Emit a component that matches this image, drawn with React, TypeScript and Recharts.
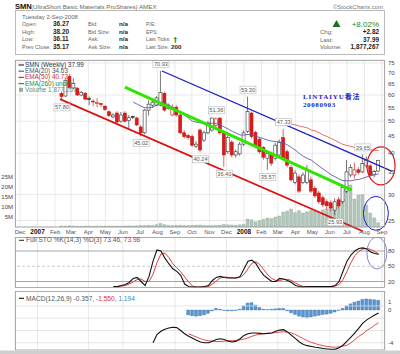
import React from 'react';
import { ComposedChart, Bar, Line, XAxis, YAxis, CartesianGrid, ReferenceLine, ReferenceDot } from 'recharts';

const FONT = '"Liberation Sans", Arial, sans-serif';

// x axis = weeks since 1-Dec-2006
const firstWeek = 10.6;
const X_DOMAIN: [number, number] = [-1.26, 92.2];
const monthTicks = [0, 4.43, 8.86, 12.86, 17.29, 21.57, 26, 30.29, 34.71, 39.14, 43.43, 47.86, 52.14, 56.57, 61, 65.14, 69.57, 73.86, 78.29, 82.57, 87, 91.43];
const monthLabels = ['Dec', '2007', 'Feb', 'Mar', 'Apr', 'May', 'Jun', 'Jul', 'Aug', 'Sep', 'Oct', 'Nov', 'Dec', '2008', 'Feb', 'Mar', 'Apr', 'May', 'Jun', 'Jul', 'Aug', 'Sep'];

const opens = [60.7, 59.6, 68.2, 63.0, 62.8, 60.0, 60.7, 58.5, 57.5, 56.6,
  56.5, 55.5, 53.4, 51.5, 52.9, 50.0, 52.9, 50.2, 51.6, 51.1,
  48.0, 46.1, 54.0, 55.9, 55.9, 55.9, 60.7, 54.7, 52.2, 55.1,
  52.2, 46.1, 45.2, 44.9, 42.0, 47.0, 43.8, 46.1, 47.0, 48.5,
  51.1, 46.1, 40.4, 43.2, 39.5, 39.8, 42.6, 46.5, 52.9, 46.2,
  44.1, 41.6, 38.5, 39.8, 38.5, 39.5, 44.6, 40.4, 36.2, 32.6,
  33.9, 32.6, 32.6, 33.2, 31.3, 30.3, 29.3, 28.5, 28.3, 26.9,
  28.9, 28.5, 30.7, 34.35, 34.35, 35.6, 35.1, 36.6, 36.6, 34.4,
  35.3];
const highs = [61.3, 67.0, 69.6, 67.5, 63.5, 61.8, 61.3, 59.5, 58.2, 58.7,
  56.8, 55.9, 53.9, 52.8, 53.6, 53.3, 53.6, 52.2, 52.0, 51.6,
  48.6, 54.5, 57.8, 57.8, 59.5, 70.93, 61.5, 56.6, 56.2, 55.9,
  53.0, 47.0, 45.8, 45.5, 43.5, 47.5, 46.8, 50.0, 51.2, 51.36,
  51.3, 46.6, 45.3, 43.8, 41.0, 43.2, 46.8, 59.3, 53.5, 46.8,
  44.6, 42.0, 40.5, 40.4, 43.0, 44.0, 47.33, 41.0, 36.8, 35.5,
  34.5, 35.0, 36.8, 34.0, 31.8, 30.8, 29.8, 29.0, 28.8, 29.2,
  29.5, 32.2, 38.1, 37.0, 37.5, 36.3, 39.65, 39.1, 37.0, 35.6,
  38.2];
const lows = [57.8, 59.2, 62.8, 62.5, 59.6, 59.5, 57.8, 55.9, 55.5, 55.1,
  55.1, 53.7, 51.5, 51.0, 49.3, 49.5, 49.5, 47.0, 50.8, 48.3,
  45.02, 45.6, 52.0, 55.0, 55.5, 55.5, 53.5, 54.2, 51.8, 51.6,
  45.6, 44.3, 43.9, 41.8, 41.4, 40.24, 43.2, 45.6, 46.5, 47.8,
  45.5, 36.4, 39.8, 38.9, 38.8, 39.3, 42.0, 46.0, 44.3, 41.4,
  39.8, 38.2, 35.57, 36.6, 38.0, 39.0, 38.0, 36.2, 32.8, 32.2,
  30.3, 32.2, 32.2, 30.3, 29.3, 28.1, 27.5, 27.0, 26.6, 25.93,
  27.2, 28.1, 30.3, 33.8, 33.5, 34.5, 34.8, 36.0, 34.0, 33.8,
  35.1];
const closes = [59.4, 66.5, 63.2, 65.0, 60.0, 61.1, 58.3, 58.3, 57.2, 57.0,
  56.2, 54.3, 52.0, 52.2, 49.7, 52.2, 50.0, 51.2, 51.4, 48.7,
  46.1, 54.0, 56.3, 57.1, 58.8, 61.1, 54.0, 55.9, 55.1, 52.2,
  46.1, 44.9, 44.6, 42.3, 42.6, 40.9, 46.1, 49.3, 51.1, 50.8,
  46.1, 39.5, 44.6, 39.5, 40.4, 42.6, 46.1, 53.5, 44.9, 41.9,
  40.4, 38.9, 39.9, 37.3, 42.3, 43.1, 38.5, 36.8, 33.2, 34.8,
  30.7, 34.35, 35.6, 30.7, 29.7, 28.5, 27.9, 27.7, 27.3, 28.5,
  27.7, 31.5, 35.1, 36.2, 35.6, 35.0, 37.2, 38.1, 34.35, 35.17,
  37.99];
// millions of shares
const volumes = [0.5, 0.4, 0.6, 0.5, 0.4, 0.4, 0.5, 0.4, 0.4, 0.4,
  0.4, 0.4, 0.5, 0.4, 0.5, 0.4, 0.5, 0.6, 0.5, 0.6,
  0.7, 0.8, 0.9, 0.8, 1.2, 1.8, 1.2, 0.8, 0.7, 0.8,
  0.9, 0.8, 0.7, 0.8, 0.9, 1.0, 0.8, 0.7, 0.7, 0.8,
  0.9, 1.3, 1.1, 1.0, 0.9, 1.1, 1.4, 4.0, 3.6, 2.6,
  3.2, 3.8, 4.5, 4.2, 5.0, 5.5, 7.5, 8.0, 9.0, 7.2,
  8.2, 7.0, 7.6, 8.3, 8.0, 7.4, 8.6, 9.0, 10.2, 11.0,
  12.0, 14.0, 21.5, 21.0, 14.0, 16.0, 16.2, 11.0, 7.0, 4.6,
  2.2];

const ema20Start = 18;
const ema20 = [57.1, 56.3, 55.5, 54.9, 54.9, 55.1, 56.0, 57.1, 56.8, 55.9,
  55.0, 54.0, 53.3, 52.2, 51.0, 50.0, 49.6, 49.4, 49.3, 49.3,
  49.3, 49.1, 48.7, 48.0, 47.3, 46.6, 46.0, 45.4, 45.4, 45.6,
  45.4, 45.0, 44.6, 44.2, 43.8, 43.5, 43.4, 43.2, 43.0, 42.3,
  41.6, 40.8, 39.9, 39.1, 38.5, 38.1, 37.3, 36.5, 35.8, 35.1,
  34.4, 33.9, 33.4, 33.0, 33.0, 33.0, 33.2, 33.3, 33.6, 33.9,
  34.2, 34.4, 34.63];
const ema50Start = 55;
const ema50 = [50.0, 49.7, 49.3, 49.0, 48.7, 48.3, 48.0, 47.7, 47.0, 46.7,
  46.1, 45.4, 44.9, 44.3, 43.7, 43.1, 42.5, 42.2, 41.9, 41.6,
  41.6, 41.4, 41.1, 40.9, 40.8, 40.72];

const stoStart = 13;
const stoK = [10, 10, 12, 14, 18, 26, 28, 20, 12, 30,
  60, 82, 80, 66, 55, 45, 40, 32, 15, 10,
  9, 9, 9, 10, 12, 22, 28, 30, 28, 27,
  27, 27, 30, 45, 60, 62, 55, 42, 32, 26,
  20, 20, 26, 25, 22, 18, 12, 10, 9, 10,
  10, 10, 10, 10, 10, 10, 12, 20, 40, 60,
  72, 80, 85, 86, 84, 78, 75, 73.46];
const stoD = [10, 10, 11, 12, 15, 19, 24, 25, 20, 20,
  34, 57, 74, 76, 67, 55, 47, 39, 29, 19,
  11, 9, 9, 9, 10, 15, 21, 27, 29, 28,
  27, 27, 28, 34, 45, 56, 59, 53, 43, 33,
  26, 22, 22, 24, 24, 22, 17, 13, 10, 10,
  10, 10, 10, 10, 10, 10, 11, 14, 24, 40,
  57, 71, 79, 84, 85, 83, 79, 73.98];

const macdStart = 23;
const macdLine = [-4.0, -3.0, -2.6, -2.35, -2.2, -2.1, -2.15, -2.5, -2.9, -3.2,
  -3.45, -3.7, -3.9, -4.0, -4.0, -3.8, -3.6, -3.5, -3.6, -3.8,
  -3.9, -3.8, -3.5, -3.1, -2.9, -2.8, -2.8, -2.85, -2.9, -2.85,
  -2.8, -2.6, -2.45, -2.4, -2.7, -3.1, -3.5, -3.9, -4.2, -4.35,
  -4.45, -4.55, -4.6, -4.7, -4.75, -4.8, -4.8, -4.6, -4.3, -3.8,
  -3.3, -2.8, -2.2, -1.6, -1.2, -0.9, -0.6, -0.357];
const signalStart = 32;
const signalLine = [-2.9, -3.1, -3.3, -3.5, -3.65, -3.75, -3.8, -3.85, -3.85, -3.8,
  -3.75, -3.75, -3.7, -3.65, -3.55, -3.4, -3.2, -3.05, -2.95, -2.9,
  -2.85, -2.8, -2.75, -2.7, -2.65, -2.7, -2.8, -3.0, -3.25, -3.5,
  -3.75, -3.95, -4.1, -4.25, -4.35, -4.45, -4.5, -4.55, -4.5, -4.4,
  -4.3, -4.0, -3.6, -3.2, -2.9, -2.5, -2.2, -1.85, -1.55];
const histogram = [-0.6, -0.7, -0.75, -0.7, -0.6, -0.4, -0.1, 0.2, 0.1, -0.05,
  -0.1, -0.1, -0.05, 0.1, 0.5, 0.85, 0.9, 0.6, 0.3, 0.1,
  0.05, 0.1, 0.15, 0.2, 0.2, -0.1, -0.35, -0.55, -0.75, -0.85,
  -0.9, -0.85, -0.75, -0.65, -0.55, -0.5, -0.4, -0.25, -0.05, 0.2,
  0.5, 0.75, 0.95, 1.1, 1.3, 1.35, 1.3, 1.25, 1.194];

const priceTicks = [25, 30, 35, 40, 45, 50, 55, 60, 65, 70, 75];
const PRICE_DOMAIN: [number, number] = [23.9, 76.6];
const volumeTicks = [5, 10, 15, 20, 25];
const VOL_DOMAIN: [number, number] = [0, 83.5];
const stoTicks = [20, 50, 80];
const STO_DOMAIN: [number, number] = [7.2, 107.5];
const macdTicks = [-4, 0, 1];
const macdGridValues = [0.5, -1, -2.5, -4];
const MACD_DOMAIN: [number, number] = [-4.88, 2.32];

// trend lines drawn on the chart: [week, price] end points
const lowerChannel = [[10.1, 58.3], [86.6, 23.2]];
const upperChannel = [[35.86, 70.93], [93.9, 35.3]];
const midTrend = [[26.5, 63.4], [83.8, 30.9]];

// highs / lows flagged on the chart
const extremeTags = [
  { j: 0, v: 57.8, below: true }, { j: 20, v: 45.02, below: true }, { j: 25, v: 70.93, below: false },
  { j: 35, v: 40.24, below: true }, { j: 39, v: 51.36, below: false }, { j: 41, v: 36.4, below: true },
  { j: 47, v: 59.3, below: false }, { j: 52, v: 35.57, below: true }, { j: 56, v: 47.33, below: false },
  { j: 69, v: 25.93, below: true }, { j: 76, v: 39.65, below: false },
];
const circlePrice = { t: 91.2, v: 36.6 };
const circleVolume = { t: 89.9, v: 6.85 };
const circleSto = { t: 90.15, v: 76 };

const legendItems = [
  { label: 'SMN (Weekly) 37.99', color: '#333', text: '#333' },
  { label: 'EMA(20) 34.63', color: '#5a5aa8', text: '#555' },
  { label: 'EMA(50) 40.72', color: '#d83030', text: '#c83030' },
  { label: 'EMA(260) undef', color: '#2a9a2a', text: '#2a8a2a' },
  { label: 'Volume 1,877,267', color: '#8fae9c', text: '#5f8f75' },
];
const infoRows = [
  ['Open:', '36.27', 'Bid:', 'n/a', 'P/E:', ''],
  ['High:', '38.20', 'Bid Size:', 'n/a', 'EPS:', ''],
  ['Low:', '36.11', 'Ask:', 'n/a', 'Last Ticks:', ''],
  ['Prev Close:', '35.17', 'Ask Size:', 'n/a', 'Last Size:', '200'],
];
const infoRight = [['', '+8.02%'], ['Chg:', '+2.82'], ['Last:', '37.99'], ['Volume:', '1,877,267']];

const at = (arr: number[], start: number, j: number) => (j >= start && j - start < arr.length ? arr[j - start] : null);

const rows = opens.map((o, j) => ({
  t: firstWeek + j,
  o, h: highs[j], l: lows[j], c: closes[j],
  pc: j > 0 ? closes[j - 1] : opens[j],
  vol: volumes[j],
  e20: at(ema20, ema20Start, j),
  e50: at(ema50, ema50Start, j),
  k: at(stoK, stoStart, j),
  d: at(stoD, stoStart, j),
  macd: at(macdLine, macdStart, j),
  sig: at(signalLine, signalStart, j),
  hist: at(histogram, signalStart, j),
}));

const Candle = (props: any) => {
  const { x, y, width, height, payload } = props;
  if (!payload || !isFinite(x) || !isFinite(y) || !isFinite(height)) return null;
  const { o, h, l, c, pc } = payload;
  const top = Math.min(y, y + height);
  const span = Math.abs(height);
  const lh = Math.log(h);
  const ll = Math.log(l);
  const py = (v: number) => top + (span * (lh - Math.log(v))) / (lh - ll || 1);
  const down = c < pc;
  const filled = c < o;
  const edge = down ? '#c01818' : '#333';
  const bTop = py(Math.max(o, c));
  const bBot = py(Math.min(o, c));
  const mid = x + width / 2;
  return (
    <g>
      <line x1={mid} x2={mid} y1={top} y2={top + span} stroke={down ? '#d04040' : '#555'} strokeWidth={0.8} />
      <rect x={x} y={bTop} width={width} height={Math.max(0.8, bBot - bTop)}
        fill={filled ? (down ? '#dd1a1a' : '#222') : '#fff'} stroke={edge} strokeWidth={0.6} />
    </g>
  );
};

const MonthTick = (props: any) => {
  const { x, y, payload } = props;
  const i = monthTicks.indexOf(payload.value);
  const label = i >= 0 ? monthLabels[i] : '';
  const year = /^\d{4}$/.test(label);
  return (
    <text x={x} y={y} dy={5} textAnchor="middle" fontFamily={FONT} fontSize={year ? 6.5 : 6}
      fontWeight={year ? 'bold' : 'normal'} fill={year ? '#111' : '#555'}>{label}</text>
  );
};

const MacdTick = (props: any) => {
  const { x, y, payload } = props;
  return <text x={x} y={y} dy={2} fontFamily={FONT} fontSize={6} fill="#444">{payload.value}</text>;
};

const tagShape = (text: string, below: boolean) => (p: any) => {
  const { cx, cy } = p;
  if (!isFinite(cx) || !isFinite(cy)) return null;
  const yc = cy + (below ? 7 : -7);
  return (
    <g>
      <rect x={cx - 8} y={yc - 3.5} width={16} height={7} fill="#fff" stroke="#b4b4b4" strokeWidth={0.6} />
      <text x={cx} y={yc + 2.1} textAnchor="middle" fontFamily={FONT} fontSize={5.6} fill="#555">{text}</text>
    </g>
  );
};

const ellipseShape = (rx: number, ry: number, color: string, w: number) => (p: any) => {
  const { cx, cy } = p;
  if (!isFinite(cx) || !isFinite(cy)) return null;
  return <ellipse cx={cx} cy={cy} rx={rx} ry={ry} fill="none" stroke={color} strokeWidth={w} />;
};

const axisTick = { fontSize: 6, fill: '#444', fontFamily: FONT };

export default function App() {
  const W = 400;
  return (
    <div style={{ position: 'absolute', left: 0, top: 0, width: 400, height: 354, background: '#fff', overflow: 'hidden' }}>
      {/* volume layer + grid + dates */}
      <div style={{ position: 'absolute', left: 0, top: 0 }}>
        <ComposedChart width={W} height={240} data={rows} margin={{ top: 60, right: 15, bottom: 0, left: 0 }}>
          <CartesianGrid stroke="#e3e3e3" strokeWidth={0.8} />
          <XAxis dataKey="t" type="number" domain={X_DOMAIN} allowDataOverflow ticks={monthTicks} interval={0}
            height={13} tick={<MonthTick />} tickLine={false} axisLine={false} tickSize={0} tickMargin={2} />
          <YAxis yAxisId="vol" orientation="left" width={15} domain={VOL_DOMAIN} allowDataOverflow ticks={volumeTicks}
            interval={0} tickFormatter={(v: number) => `${v}M`} tick={axisTick} tickLine={false} axisLine={false}
            tickSize={0} tickMargin={2} />
          <YAxis orientation="right" hide scale="log" type="number" domain={PRICE_DOMAIN} allowDataOverflow ticks={priceTicks} />
          <Bar yAxisId="vol" dataKey="vol" barSize={3} fill="#b2c6ba" stroke="#93ad9e" strokeWidth={0.4} isAnimationActive={false} />
          <ReferenceDot yAxisId="vol" x={circleVolume.t} y={circleVolume.v} r={1} ifOverflow="visible"
            shape={ellipseShape(12.5, 17, '#1c1cc8', 1)} />
        </ComposedChart>
      </div>
      {/* price layer */}
      <div style={{ position: 'absolute', left: 0, top: 0 }}>
        <ComposedChart width={W} height={240} data={rows} margin={{ top: 60, right: 0, bottom: 13, left: 15 }}>
          <XAxis dataKey="t" type="number" domain={X_DOMAIN} allowDataOverflow ticks={monthTicks} hide />
          <YAxis orientation="right" width={15} scale="log" type="number" domain={PRICE_DOMAIN} allowDataOverflow
            ticks={priceTicks} interval={0} tick={axisTick} tickLine={false} axisLine={false} tickSize={0} tickMargin={3} />
          <Bar dataKey={(d: any) => [d.l, d.h]} barSize={3} shape={<Candle />} isAnimationActive={false} />
          <Line dataKey="e20" stroke="#5a5aa8" strokeWidth={0.9} dot={false} isAnimationActive={false} />
          <Line dataKey="e50" stroke="#e06060" strokeWidth={0.9} dot={false} isAnimationActive={false} />
          <ReferenceLine segment={[{ x: lowerChannel[0][0], y: lowerChannel[0][1] }, { x: lowerChannel[1][0], y: lowerChannel[1][1] }]}
            stroke="#dd1111" strokeWidth={1.8} ifOverflow="visible" />
          <ReferenceLine segment={[{ x: upperChannel[0][0], y: upperChannel[0][1] }, { x: upperChannel[1][0], y: upperChannel[1][1] }]}
            stroke="#1a1acc" strokeWidth={1.3} ifOverflow="visible" />
          <ReferenceLine segment={[{ x: midTrend[0][0], y: midTrend[0][1] }, { x: midTrend[1][0], y: midTrend[1][1] }]}
            stroke="#2ee600" strokeWidth={3} ifOverflow="visible" />
          {extremeTags.map((e) => (
            <ReferenceDot key={e.j} x={firstWeek + e.j} y={e.v} r={1} ifOverflow="visible"
              shape={tagShape(e.v.toFixed(2), e.below)} />
          ))}
          <ReferenceDot x={circlePrice.t} y={circlePrice.v} r={1} ifOverflow="visible"
            shape={ellipseShape(14, 19, '#dd1a1a', 1.2)} />
        </ComposedChart>
      </div>
      {/* stochastics */}
      <div style={{ position: 'absolute', left: 0, top: 237 }}>
        <ComposedChart width={W} height={51} data={rows} margin={{ top: 0, right: 0, bottom: 0, left: 15 }}>
          <CartesianGrid horizontal={false} stroke="#e3e3e3" strokeWidth={0.8} />
          <XAxis dataKey="t" type="number" domain={X_DOMAIN} allowDataOverflow ticks={monthTicks} hide />
          <YAxis orientation="right" width={15} domain={STO_DOMAIN} allowDataOverflow ticks={stoTicks} interval={0}
            tick={axisTick} tickLine={false} axisLine={false} tickSize={0} tickMargin={3} />
          <ReferenceLine y={80} stroke="#9a9a9a" strokeWidth={0.9} />
          <ReferenceLine y={20} stroke="#9a9a9a" strokeWidth={0.9} />
          <ReferenceLine y={50} stroke="#bbbbbb" strokeWidth={0.8} strokeDasharray="3 2" />
          <Line dataKey="d" stroke="#e03a3a" strokeWidth={1} dot={false} isAnimationActive={false} />
          <Line dataKey="k" stroke="#111" strokeWidth={1.1} dot={false} isAnimationActive={false} />
          <ReferenceDot x={circleSto.t} y={circleSto.v} r={1} ifOverflow="visible"
            shape={ellipseShape(10, 16, '#6a6ad0', 0.8)} />
        </ComposedChart>
      </div>
      {/* MACD */}
      <div style={{ position: 'absolute', left: 0, top: 291 }}>
        <ComposedChart width={W} height={59} data={rows} margin={{ top: 0, right: 0, bottom: 0, left: 15 }}>
          <CartesianGrid horizontal={false} stroke="#e3e3e3" strokeWidth={0.8} />
          <XAxis dataKey="t" type="number" domain={X_DOMAIN} allowDataOverflow ticks={monthTicks} hide />
          <YAxis orientation="right" width={15} domain={MACD_DOMAIN} allowDataOverflow ticks={macdTicks} interval={0}
            tick={<MacdTick />} tickLine={false} axisLine={false} tickSize={0} tickMargin={3} />
          {macdGridValues.map((g) => (
            <ReferenceLine key={g} y={g} stroke="#dedede" strokeWidth={0.8} />
          ))}
          <Bar dataKey="hist" barSize={3} fill="#5a96cc" stroke="#3c76ae" strokeWidth={0.4} isAnimationActive={false} />
          <Line dataKey="sig" stroke="#e03a3a" strokeWidth={0.9} dot={false} isAnimationActive={false} />
          <Line dataKey="macd" stroke="#111" strokeWidth={1.1} dot={false} isAnimationActive={false} />
        </ComposedChart>
      </div>
      {/* texts and frames */}
      <svg width={400} height={354} style={{ position: 'absolute', left: 0, top: 0, pointerEvents: 'none' }} fontFamily={FONT}>
        <text x={15} y={8.5} fontSize={7.5} fontWeight="bold" fill="#111">SMN</text>
        <text x={31} y={8.5} fontSize={6.2} fill="#666">(UltraShort Basic Materials ProShares) AMEX</text>
        <text x={383} y={8.5} fontSize={6} fill="#777" textAnchor="end">©StockCharts.com</text>
        <rect x={15.5} y={10.5} width={369} height={44} fill="none" stroke="#aaa" strokeWidth={0.8} />
        <text x={22} y={18.5} fontSize={6} fill="#666">Tuesday  2-Sep-2008</text>
        {infoRows.map((r, i) => {
          const y = 26 + i * 7.6;
          return (
            <g key={i}>
              <text x={22} y={y} fontSize={5.6} fill="#666">{r[0]}</text>
              <text x={53} y={y} fontSize={6.4} fontWeight="bold" fill="#222">{r[1]}</text>
              <text x={88} y={y} fontSize={5.6} fill="#666">{r[2]}</text>
              <text x={119} y={y} fontSize={6.2} fontWeight="bold" fill="#222">{r[3]}</text>
              <text x={146} y={y} fontSize={5.2} fill="#666">{r[4]}</text>
              <text x={171} y={y} fontSize={6.2} fontWeight="bold" fill="#222">{r[5]}</text>
            </g>
          );
        })}
        <text x={173.5} y={41.5} fontSize={7} fontWeight="bold" fill="#1d8a1d" fontFamily="DejaVu Sans">†</text>
        <path d="M332.5 27 L336.5 20 L340.5 27 Z" fill="#1e6e1e" />
        {infoRight.map((r, i) => {
          const y = 26.5 + i * 7.5;
          return (
            <g key={i}>
              <text x={320} y={y} fontSize={6} fill="#666">{r[0]}</text>
              <text x={379} y={y} fontSize={i === 0 ? 8 : 6.4} fontWeight={i === 0 ? 'normal' : 'bold'}
                fill={i === 0 ? '#1d8a1d' : '#222'} textAnchor="end">{r[1]}</text>
            </g>
          );
        })}
        {/* price panel frame & legend */}
        <rect x={15.5} y={60.5} width={369} height={166.5} fill="none" stroke="#9a9a9a" strokeWidth={0.8} />
        {legendItems.map((it, i) => {
          const y = 67 + i * 6.2;
          return (
            <g key={i}>
              {i === 4
                ? <rect x={19} y={y - 4} width={4} height={4} fill={it.color} />
                : <line x1={18.5} x2={24} y1={y - 2} y2={y - 2} stroke={it.color} strokeWidth={1.2} />}
              <text x={25} y={y} fontSize={6.4} fill={it.text}>{it.label}</text>
            </g>
          );
        })}
        <text x={303} y={99} fontSize={7} fontWeight="bold" fill="#2222c8" letterSpacing={0.9}
          fontFamily='"Liberation Serif", "Noto Sans CJK SC", serif'>LINTAIYU看法</text>
        <text x={303} y={106.5} fontSize={7} fontWeight="bold" fill="#2222c8" letterSpacing={0.6}
          fontFamily='"Liberation Serif", serif'>20080903</text>
        {/* STO frame */}
        <rect x={15.5} y={237.5} width={369} height={50} fill="none" stroke="#9a9a9a" strokeWidth={0.8} />
        <line x1={19} x2={24} y1={240.3} y2={240.3} stroke="#333" strokeWidth={1.1} />
        <text x={26} y={242.3} fontSize={6.6} fill="#555">Full STO %K(14,3) %D(3) 73.46, <tspan fill="#d03030">73.98</tspan></text>
        {/* MACD frame */}
        <rect x={15.5} y={291.5} width={369} height={58.5} fill="none" stroke="#9a9a9a" strokeWidth={0.8} />
        <line x1={19} x2={24} y1={298.3} y2={298.3} stroke="#111" strokeWidth={1.1} />
        <text x={26} y={300.5} fontSize={6.6} fill="#555">MACD(12,26,9) -0.357, <tspan fill="#d03030">-1.550</tspan>, <tspan fill="#3a8fc0">1.194</tspan></text>
        <rect x={0} y={350.5} width={400} height={4} fill="#cfcfcf" />
      </svg>
    </div>
  );
}
